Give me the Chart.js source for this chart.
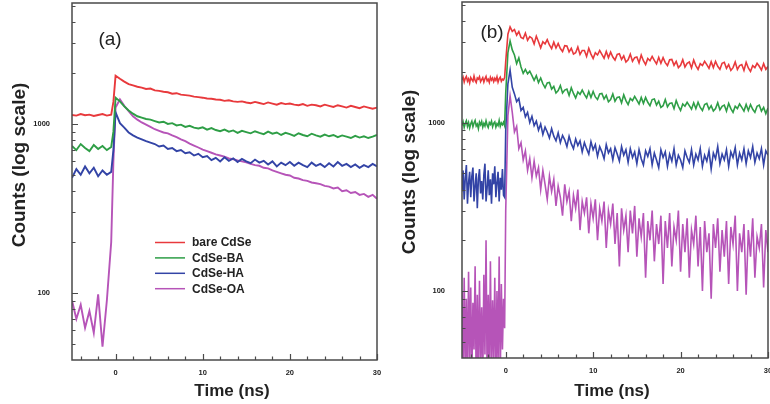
<!DOCTYPE html>
<html>
<head>
<meta charset="utf-8">
<script src="https://cdn.jsdelivr.net/npm/chart.js@4.4.1/dist/chart.umd.min.js"></script>
<style>
  html, body { margin: 0; padding: 0; background: #fff; overflow: hidden; width: 770px; height: 404px; }
  canvas { position: absolute; top: 0; }
  #panelA { left: 0; }
  #panelB { left: 388px; }
</style>
</head>
<body>
<canvas id="panelA" width="388" height="404"></canvas>
<canvas id="panelB" width="400" height="404"></canvas>
<script>
// ---- series names and colours ----
const seriesNames = ['bare CdSe', 'CdSe-BA', 'CdSe-HA', 'CdSe-OA'];
const seriesColors = ['#e8393c', '#2e9e46', '#3344a6', '#b654b8'];

// ---- axis ticks ----
const xTickValues = [-4, -2, 0, 2, 4, 6, 8, 10, 12, 14, 16, 18, 20, 22, 24, 26, 28, 30];
const xTickLabels = [0, 10, 20, 30];
const yTickValues = [50, 60, 70, 80, 90, 100, 200, 300, 400, 500, 600, 700, 800, 900,
                     1000, 2000, 3000, 4000, 5000];
const yTickLabels = [100, 1000];

// ---- panel (a): time in ns ----
const timeA = [-5, -4.5, -4, -3.5, -3, -2.5, -2, -1.5, -1, -0.5,
  -0.25,
  0, 0.5, 1, 1.5, 2, 2.5, 3, 3.5, 4, 4.5,
  5, 5.5, 6, 6.5, 7, 7.5, 8, 8.5, 9, 9.5,
  10, 10.5, 11, 11.5, 12, 12.5, 13, 13.5, 14, 14.5,
  15, 15.5, 16, 16.5, 17, 17.5, 18, 18.5, 19, 19.5,
  20, 20.5, 21, 21.5, 22, 22.5, 23, 23.5, 24, 24.5,
  25, 25.5, 26, 26.5, 27, 27.5, 28, 28.5, 29, 29.5,
  30];

const bareA = [1130, 1120, 1145, 1125, 1135, 1115, 1130, 1145, 1120, 1135,
  1350,
  1930, 1850, 1780, 1720, 1690, 1660, 1640, 1610, 1620, 1580,
  1570, 1550, 1540, 1510, 1520, 1490, 1480, 1470, 1450, 1440,
  1430, 1415, 1410, 1395, 1390, 1370, 1380, 1360, 1350, 1360,
  1340, 1325, 1350, 1330, 1310, 1340, 1320, 1300, 1330, 1310,
  1320, 1300, 1290, 1310, 1280, 1300, 1290, 1270, 1300, 1280,
  1260, 1290, 1270, 1250, 1280, 1260, 1240, 1270, 1250, 1230,
  1250];

const baA = [740, 700, 760, 720, 690, 750, 710, 740, 700, 730,
  900,
  1430, 1360, 1270, 1200, 1150, 1110, 1090, 1070, 1060, 1040,
  1020, 1030, 1000, 1010, 980, 990, 960, 975, 950, 940,
  955, 925, 945, 920, 905, 925, 900, 915, 885, 910,
  895, 880, 905, 885, 870, 900, 875, 890, 860, 885,
  870, 850, 880, 860, 845, 875, 855, 840, 865, 845,
  860, 835, 855, 840, 825, 850, 830, 845, 825, 840,
  860];

const haA = [480, 540, 500, 560, 510, 550, 490, 530, 500, 520,
  700,
  1170, 1010, 950, 890, 855, 830, 810, 790, 775, 760,
  735, 745, 710, 720, 690, 700, 670, 680, 650, 665,
  635, 645, 610, 630, 600, 635, 605, 625, 595, 620,
  600, 585, 615, 590, 605, 575, 600, 560, 590, 570,
  595, 565, 590, 570, 555, 590, 565, 580, 555, 585,
  560, 595, 565, 580, 555, 575, 550, 570, 555, 580,
  560];

const oaA = [90, 70, 85, 62, 78, 58, 98, 48, 90, 200,
  600,
  1250, 1400, 1280, 1190, 1110, 1060, 1020, 990, 960, 930,
  910, 890, 880, 855, 835, 810, 790, 765, 745, 725,
  705, 690, 675, 660, 650, 640, 625, 618, 608, 600,
  592, 580, 570, 565, 550, 545, 530, 520, 510, 500,
  495, 480, 475, 465, 460, 450, 445, 440, 430, 425,
  415, 420, 400, 405, 390, 395, 380, 385, 370, 380,
  360];

// ---- panel (b): time in ns (finer before the pulse) ----
const timeB = [
  -5, -4.875, -4.75, -4.625, -4.5, -4.375, -4.25, -4.125,
  -4, -3.875, -3.75, -3.625, -3.5, -3.375, -3.25, -3.125,
  -3, -2.875, -2.75, -2.625, -2.5, -2.375, -2.25, -2.125,
  -2, -1.875, -1.75, -1.625, -1.5, -1.375, -1.25, -1.125,
  -1, -0.875, -0.75, -0.625, -0.5, -0.375, -0.25, -0.125,
  0, 0.25, 0.5, 0.75, 1, 1.25, 1.5, 1.75, 2, 2.25, 2.5, 2.75,
  3, 3.25, 3.5, 3.75, 4, 4.25, 4.5, 4.75, 5, 5.25, 5.5, 5.75,
  6, 6.25, 6.5, 6.75, 7, 7.25, 7.5, 7.75, 8, 8.25, 8.5, 8.75,
  9, 9.25, 9.5, 9.75, 10, 10.25, 10.5, 10.75, 11, 11.25, 11.5, 11.75,
  12, 12.25, 12.5, 12.75, 13, 13.25, 13.5, 13.75, 14, 14.25, 14.5, 14.75,
  15, 15.25, 15.5, 15.75, 16, 16.25, 16.5, 16.75, 17, 17.25, 17.5, 17.75,
  18, 18.25, 18.5, 18.75, 19, 19.25, 19.5, 19.75, 20, 20.25, 20.5, 20.75,
  21, 21.25, 21.5, 21.75, 22, 22.25, 22.5, 22.75, 23, 23.25, 23.5, 23.75,
  24, 24.25, 24.5, 24.75, 25, 25.25, 25.5, 25.75, 26, 26.25, 26.5, 26.75,
  27, 27.25, 27.5, 27.75, 28, 28.25, 28.5, 28.75, 29, 29.25, 29.5, 29.75,
  30];

const bareB = [
  1790, 1860, 1740, 1830, 1880, 1760, 1820, 1720, 1850, 1800,
  1760, 1890, 1780, 1730, 1840, 1810, 1870, 1750, 1800, 1850,
  1740, 1820, 1880, 1770, 1810, 1730, 1860, 1790, 1840, 1750,
  1830, 1780, 1870, 1740, 1820, 1860, 1760, 1810, 1790, 1850,
  2300, 3350, 3700, 3480,
  3570, 3300, 3470, 3200,
  3150, 3400, 3080, 3240,
  3170, 2930, 3260, 3020,
  2780, 3020, 2930, 3110,
  2890, 2750, 3000, 2770,
  2950, 2750, 2640, 2860,
  2850, 2630, 2760, 2550,
  2600, 2810, 2540, 2680,
  2680, 2470, 2760, 2550,
  2400, 2600, 2520, 2680,
  2540, 2410, 2640, 2430,
  2620, 2450, 2350, 2540,
  2560, 2370, 2490, 2290,
  2360, 2550, 2310, 2430,
  2450, 2260, 2520, 2330,
  2210, 2400, 2330, 2470,
  2340, 2230, 2440, 2250,
  2430, 2270, 2180, 2360,
  2370, 2190, 2310, 2120,
  2190, 2360, 2140, 2250,
  2290, 2110, 2350, 2180,
  2070, 2240, 2180, 2310,
  2210, 2100, 2300, 2120,
  2310, 2160, 2070, 2250,
  2280, 2100, 2210, 2040,
  2120, 2290, 2070, 2180,
  2210, 2040, 2280, 2110,
  2010, 2180, 2120, 2250,
  2160, 2050, 2240, 2070,
  2150];

const baB = [
  960, 1010, 935, 990, 1025, 950, 1000, 930, 985, 1020,
  945, 995, 1030, 955, 980, 920, 1005, 970, 1015, 940,
  990, 955, 1025, 965, 935, 1000, 975, 1020, 945, 990,
  1010, 940, 985, 960, 1030, 950, 995, 970, 1005, 960,
  1500, 2600, 3050, 2700,
  2520, 2240, 2420, 2140,
  1960, 2070, 1950, 2020,
  1900, 1780, 1900, 1730,
  1840, 1700, 1610, 1720,
  1730, 1580, 1640, 1500,
  1550, 1660, 1500, 1560,
  1580, 1450, 1610, 1490,
  1400, 1520, 1470, 1560,
  1470, 1400, 1530, 1410,
  1530, 1420, 1370, 1480,
  1490, 1380, 1450, 1330,
  1370, 1480, 1340, 1410,
  1420, 1310, 1460, 1350,
  1280, 1390, 1350, 1430,
  1360, 1290, 1410, 1300,
  1410, 1320, 1260, 1370,
  1380, 1270, 1340, 1230,
  1260, 1370, 1240, 1300,
  1310, 1210, 1350, 1250,
  1180, 1290, 1250, 1320,
  1260, 1200, 1310, 1210,
  1320, 1230, 1180, 1280,
  1300, 1200, 1260, 1170,
  1210, 1310, 1190, 1250,
  1270, 1170, 1300, 1210,
  1150, 1250, 1210, 1290,
  1230, 1170, 1280, 1180,
  1280, 1200, 1150, 1250,
  1270, 1170, 1230, 1130,
  1220];

const haB = [
  390, 520, 350, 470, 560, 330, 440, 510, 360, 480,
  540, 340, 420, 500, 310, 460, 530, 380, 450, 350,
  490, 570, 340, 410, 520, 370, 460, 330, 500, 430,
  550, 360, 440, 510, 340, 470, 400, 530, 370, 360,
  900, 1700, 2050, 1620,
  1480, 1330, 1390, 1180,
  1230, 1080, 1150, 1000,
  1090, 960, 1020, 900,
  980, 850, 940, 880,
  810, 920, 830, 780,
  870, 760, 840, 790,
  720, 830, 750, 700,
  800, 730, 780, 670,
  760, 700, 650, 770,
  690, 740, 630, 720,
  670, 610, 740, 660,
  700, 600, 710, 650,
  590, 720, 640, 690,
  580, 700, 620, 670,
  570, 690, 610, 560,
  680, 630, 700, 560,
  660, 600, 540, 690,
  620, 670, 550, 650,
  590, 700, 560, 640,
  600, 540, 680, 620,
  580, 690, 560, 650,
  600, 700, 550, 640,
  590, 680, 530, 660,
  610, 720, 570, 650,
  600, 690, 550, 670,
  620, 710, 560, 660,
  600, 700, 570, 680,
  620, 720, 580, 660,
  610, 700, 560, 680,
  640];

const oaB = [
  100, 30, 120, 35, 90, 28, 130, 40,
  105, 30, 85, 45, 140, 28, 95, 32,
  115, 38, 80, 30, 125, 42, 200, 30,
  95, 34, 150, 30, 88, 40, 120, 28,
  100, 36, 160, 30, 110, 45, 90, 60,
  300, 1100, 1440, 1150,
  880, 950, 700, 760,
  600, 680, 520, 610,
  470, 590, 480, 540,
  400, 520, 430, 350,
  480, 390, 460, 320,
  420, 360, 280, 430,
  340, 390, 260, 370,
  310, 400, 230, 340,
  290, 360, 220, 330,
  270, 350, 200, 310,
  260, 340, 180, 300,
  250, 330, 190, 290,
  140, 310, 230, 280,
  170, 300, 220, 320,
  160, 270, 210, 290,
  120, 260, 200, 300,
  150, 250, 190, 280,
  110, 260, 180, 290,
  140, 240, 200, 300,
  130, 250, 170, 270,
  120, 230, 190, 280,
  140, 240, 100, 260,
  170, 220, 90, 250,
  180, 270, 130, 230,
  160, 260, 110, 240,
  190, 280, 100, 220,
  170, 250, 95, 230,
  160, 270, 120, 210,
  180, 250, 105, 230,
  170];

const xTitle = 'Time (ns)';
const yTitle = 'Counts (log scale)';
const FONT = '"Liberation Sans", Arial, Helvetica, sans-serif';

function toPoints(times, values) {
  return times.map((t, i) => ({ x: t, y: values[i] }));
}

// frame, inward tick marks, axis titles, panel tag and (optionally) legend
function decorations(cfg) {
  return {
    id: 'decorations',
    afterDraw(chart) {
      const { ctx, chartArea: a, scales: { x, y } } = chart;
      ctx.save();
      ctx.strokeStyle = '#4a4a4a';
      ctx.lineWidth = 1.5;
      ctx.strokeRect(a.left, a.top, a.right - a.left, a.bottom - a.top);

      ctx.lineWidth = 1.2;
      ctx.beginPath();
      yTickValues.forEach(v => {
        const py = Math.round(y.getPixelForValue(v)) + 0.5;
        const len = yTickLabels.includes(v) ? 6 : 3.5;
        ctx.moveTo(a.left, py);
        ctx.lineTo(a.left + len, py);
      });
      xTickValues.forEach(v => {
        const px = Math.round(x.getPixelForValue(v)) + 0.5;
        const len = xTickLabels.includes(v) ? 6 : 3.5;
        ctx.moveTo(px, a.bottom);
        ctx.lineTo(px, a.bottom - len);
      });
      ctx.stroke();

      ctx.fillStyle = '#222';
      ctx.textAlign = 'center';
      ctx.textBaseline = 'middle';
      ctx.font = 'bold 19px ' + FONT;
      ctx.save();
      ctx.translate(cfg.yTitleX, cfg.yTitleY);
      ctx.rotate(-Math.PI / 2);
      ctx.fillText(yTitle, 0, 0);
      ctx.restore();

      ctx.font = 'bold 17px ' + FONT;
      ctx.fillText(xTitle, cfg.xTitleX, cfg.xTitleY);

      ctx.font = '19px ' + FONT;
      ctx.fillText(cfg.tag, cfg.tagX, cfg.tagY);

      if (cfg.legend) {
        const L = cfg.legend;
        ctx.textAlign = 'left';
        ctx.font = 'bold 12px ' + FONT;
        chart.data.datasets.forEach((ds, i) => {
          const ly = L.y + i * L.gap;
          ctx.strokeStyle = ds.borderColor;
          ctx.lineWidth = 1.5;
          ctx.beginPath();
          ctx.moveTo(L.x, ly);
          ctx.lineTo(L.x + 30, ly);
          ctx.stroke();
          ctx.fillStyle = '#222';
          ctx.fillText(ds.label, L.x + 37, ly + 0.5);
        });
      }
      ctx.restore();
    }
  };
}

function makePanel(canvas, times, seriesList, lineWidth, geom, deco) {
  return new Chart(canvas, {
    type: 'line',
    data: {
      datasets: seriesList.map((vals, k) => ({
        label: seriesNames[k],
        data: toPoints(times, vals),
        borderColor: seriesColors[k],
        borderWidth: lineWidth,
        pointRadius: 0,
        fill: false,
        tension: 0
      }))
    },
    options: {
      responsive: false,
      animation: false,
      devicePixelRatio: 1,
      layout: { padding: { top: geom.top, right: geom.right, left: 0, bottom: 0 } },
      plugins: { legend: { display: false }, tooltip: { enabled: false } },
      scales: {
        x: {
          type: 'linear',
          min: -5,
          max: 30,
          afterBuildTicks: s => { s.ticks = xTickValues.map(v => ({ value: v })); },
          afterFit: s => { s.height = geom.xHeight; s.paddingLeft = 0; s.paddingRight = 0; },
          grid: { display: false, drawTicks: false },
          border: { display: false },
          ticks: {
            autoSkip: false,
            maxRotation: 0,
            padding: 8,
            color: '#222',
            font: { family: FONT, size: 7.5, weight: 'bold' },
            callback: v => xTickLabels.includes(v) ? String(v) : null
          }
        },
        y: {
          type: 'logarithmic',
          min: 40,
          max: 5200,
          afterBuildTicks: s => { s.ticks = yTickValues.map(v => ({ value: v })); },
          afterFit: s => { s.width = geom.yWidth; s.paddingTop = 0; s.paddingBottom = 0; },
          grid: { display: false, drawTicks: false },
          border: { display: false },
          ticks: {
            autoSkip: false,
            padding: geom.yPad,
            color: '#222',
            font: { family: FONT, size: 7.5, weight: 'bold' },
            callback: v => yTickLabels.includes(v) ? String(v) : null
          }
        }
      }
    },
    plugins: [decorations(deco)]
  });
}

makePanel(document.getElementById('panelA'), timeA, [bareA, baA, haA, oaA], 1.9,
  { top: 3, right: 11, xHeight: 44, yWidth: 72, yPad: 22 },
  { yTitleX: 20, yTitleY: 165, xTitleX: 232, xTitleY: 391, tag: '(a)', tagX: 110, tagY: 40,
    legend: { x: 155, y: 242.5, gap: 15.4 } });

makePanel(document.getElementById('panelB'), timeB, [bareB, baB, haB, oaB], 1.6,
  { top: 2, right: 20, xHeight: 46, yWidth: 74, yPad: 17 },
  { yTitleX: 22, yTitleY: 172, xTitleX: 224, xTitleY: 391, tag: '(b)', tagX: 104, tagY: 33 });
</script>
</body>
</html>
